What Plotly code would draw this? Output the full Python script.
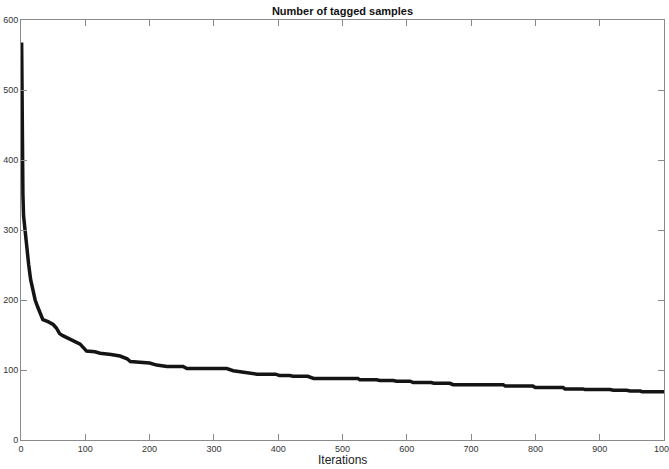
import plotly.graph_objects as go

# Points of the curve (iteration, number of tagged samples)
iterations = [1, 2, 3, 4, 6, 9, 12, 15, 18, 22, 26, 30, 34, 42, 50, 55, 60, 65, 72, 79,
              85, 92, 97, 102, 115, 123, 140, 154, 165, 170, 200, 211, 227, 252, 258,
              320, 330, 345, 356, 367, 396, 402, 418, 423, 446, 455, 524, 527, 553,
              558, 579, 584, 605, 610, 638, 642, 667, 672, 750, 753, 796, 800, 843,
              846, 874, 877, 916, 921, 942, 947, 963, 966, 1000]
tagged = [568, 400, 350, 320, 300, 271, 250, 229, 215, 200, 190, 180, 172, 169, 165, 160,
          152, 149, 146, 143, 140, 137, 132, 127, 126, 124, 122, 120, 116, 112, 110, 107,
          105, 105, 102, 102, 99, 97, 95, 94, 94, 92, 92, 91, 91, 88, 88, 86, 86, 85, 85,
          84, 84, 82, 82, 81, 81, 79, 79, 77, 77, 75, 75, 73, 73, 72, 72, 71, 71, 70, 70,
          69, 69]

x_ticks = [0, 100, 200, 300, 400, 500, 600, 700, 800, 900, 1000]
y_ticks = [0, 100, 200, 300, 400, 500, 600]

FONT = "Liberation Sans, Arial, sans-serif"

fig = go.Figure()
fig.add_trace(go.Scatter(x=iterations, y=tagged, mode="lines",
                         line=dict(color="#141414", width=3.5),
                         showlegend=False, hoverinfo="skip"))

axis_common = dict(showline=True, linecolor="#8a8a8a", linewidth=1, mirror="ticks",
                   ticks="inside", ticklen=6, tickcolor="#8a8a8a", tickwidth=1,
                   showgrid=False, zeroline=False, automargin=False,
                   ticklabeloverflow="allow",
                   tickfont=dict(family=FONT, size=9, color="#333333"))

fig.update_layout(
    width=669, height=469,
    margin=dict(l=21, r=5, t=20, b=29, autoexpand=False),
    paper_bgcolor="white", plot_bgcolor="white",
    title=dict(text="<b>Number of tagged samples</b>", x=0.5, xanchor="center",
               xref="paper", yref="container", y=1 - 11 / 469, yanchor="middle",
               font=dict(family=FONT, size=11, color="#111111")),
    xaxis=dict(range=[0, 1000], tickvals=x_ticks, ticktext=[str(v) for v in x_ticks],
               **axis_common),
    yaxis=dict(range=[0, 600], tickvals=y_ticks, ticktext=[str(v) for v in y_ticks],
               **axis_common),
)
fig.add_annotation(text="Iterations", xref="paper", yref="paper", x=0.5, y=-20 / 420,
                   xanchor="center", yanchor="middle", showarrow=False,
                   font=dict(family=FONT, size=12, color="#222222"))

fig.write_html("out.html", config={"displayModeBar": False, "staticPlot": True},
               post_script="document.body.style.margin='0';document.body.style.overflow='hidden';")
